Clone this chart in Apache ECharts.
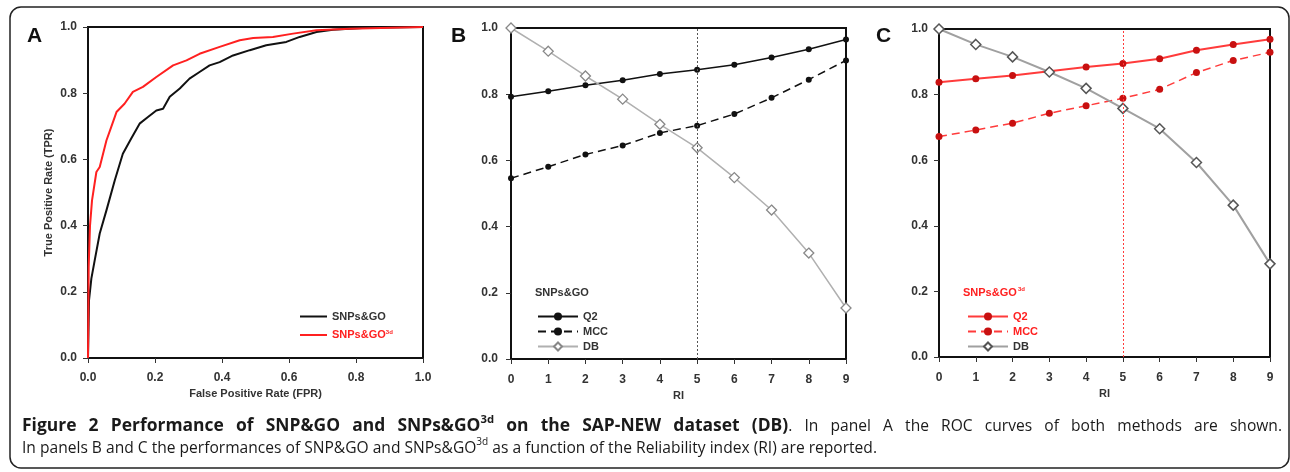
<!DOCTYPE html>
<html><head><meta charset="utf-8">
<script src="https://cdn.jsdelivr.net/npm/echarts@6/dist/echarts.min.js"></script>
<style>html,body{margin:0;padding:0;background:#fff}#c{width:1290px;height:472px}</style>
</head><body><div id="c"></div>
<script>
// ---------- DATA ----------
const rocTicks = [0, 0.2, 0.4, 0.6, 0.8, 1.0];
const rocBlackFpr = [0, 0.003, 0.01, 0.02, 0.035, 0.055, 0.08, 0.104, 0.129, 0.154, 0.179, 0.204, 0.224, 0.244, 0.274, 0.303, 0.333, 0.363, 0.393, 0.433, 0.483, 0.532, 0.592, 0.632, 0.682, 0.731, 0.831, 1.0];
const rocBlackTpr = [0, 0.174, 0.24, 0.295, 0.376, 0.446, 0.537, 0.617, 0.663, 0.708, 0.728, 0.748, 0.753, 0.789, 0.814, 0.844, 0.864, 0.884, 0.894, 0.914, 0.930, 0.945, 0.955, 0.970, 0.985, 0.992, 0.998, 1.0];
const rocRedFpr = [0, 0.002, 0.006, 0.012, 0.025, 0.035, 0.055, 0.07, 0.085, 0.109, 0.134, 0.164, 0.204, 0.254, 0.294, 0.333, 0.393, 0.453, 0.493, 0.552, 0.612, 0.682, 0.781, 1.0];
const rocRedTpr = [0, 0.275, 0.40, 0.476, 0.562, 0.577, 0.657, 0.70, 0.743, 0.768, 0.804, 0.819, 0.849, 0.884, 0.899, 0.919, 0.940, 0.960, 0.967, 0.970, 0.980, 0.990, 0.995, 1.0];

const riLabels = ['0', '1', '2', '3', '4', '5', '6', '7', '8', '9'];
const riThreshold = '5';
const bQ2 = [0.792, 0.809, 0.827, 0.842, 0.861, 0.874, 0.889, 0.911, 0.936, 0.965];
const bMCC = [0.546, 0.581, 0.618, 0.645, 0.683, 0.705, 0.740, 0.789, 0.844, 0.902];
const bDB = [1.0, 0.930, 0.855, 0.785, 0.709, 0.638, 0.548, 0.450, 0.320, 0.154];
const cQ2 = [0.838, 0.848, 0.858, 0.871, 0.884, 0.895, 0.909, 0.935, 0.953, 0.969];
const cMCC = [0.672, 0.692, 0.713, 0.743, 0.766, 0.789, 0.816, 0.867, 0.904, 0.929];
const cDB = [1.0, 0.953, 0.915, 0.869, 0.819, 0.758, 0.696, 0.593, 0.463, 0.284];

// caption text: each line is a list of [text, style] pieces; 'S' marks a superscript
const captionLine1 = [
  ['Figure 2 Performance of SNP&GO and SNPs&GO', 'B'], ['3d', 'SB'],
  [' on the SAP-NEW dataset (DB)', 'B'], ['. In panel A the ROC curves of both methods are shown.', 'R']
];
const captionLine2 = [
  ['In panels B and C the performances of SNP&GO and SNPs&GO', 'R'], ['3d', 'SR'],
  [' as a function of the Reliability index (RI) are reported.', 'R']
];

// ---------- helpers ----------
const zip = (a, b) => a.map((v, i) => [v, b[i]]);
const FONT = '"Liberation Sans", Arial, sans-serif';
const RED = '#ff2020';

const chart = echarts.init(document.getElementById('c'), null, {renderer: 'canvas'});

function yAxisCommon(gi, labelMargin) {
  return {
    gridIndex: gi, type: 'value', min: 0, max: 1, interval: 0.2,
    axisLine: {show: true, lineStyle: {color: '#111', width: 2}},
    axisTick: {show: true, length: 5, lineStyle: {color: '#333', width: 1}},
    axisLabel: {margin: labelMargin, color: '#333', fontFamily: FONT, fontWeight: 'bold', fontSize: 12,
      formatter: v => v.toFixed(1)},
    splitLine: {show: false}
  };
}
function xCat(gi, labelMargin, nameGap) {
  return {
    gridIndex: gi, type: 'category', data: riLabels, boundaryGap: false,
    name: 'RI', nameLocation: 'middle', nameGap: nameGap,
    nameTextStyle: {color: '#333', fontFamily: FONT, fontWeight: 'bold', fontSize: 11},
    axisLine: {show: true, lineStyle: {color: '#111', width: 2}},
    axisTick: {show: true, length: 5, alignWithLabel: true, interval: 0, lineStyle: {color: '#333', width: 1}},
    axisLabel: {margin: labelMargin, interval: 0, color: '#333', fontFamily: FONT, fontWeight: 'bold', fontSize: 12},
    splitLine: {show: false}
  };
}

// caption layout (word-level justification like the printed figure)
const mctx = document.createElement('canvas').getContext('2d');
const CAP = '"Open Sans", "Noto Sans", sans-serif';
function fontOf(st) {
  const bold = st.indexOf('B') >= 0;
  const sup = st.indexOf('S') >= 0;
  return (bold ? 'bold ' : '') + (sup ? 11 : 17) + 'px ' + CAP;
}
function mw(text, font) { mctx.font = font; return mctx.measureText(text).width; }
function toWords(pieces) {
  const words = [[]];
  pieces.forEach(([t, st]) => {
    const parts = t.split(' ');
    parts.forEach((p, i) => {
      if (i > 0) words.push([]);
      if (p.length) words[words.length - 1].push([p, st]);
    });
  });
  return words.filter(w => w.length);
}
const capScale = (877 - 22) / captionLine2.reduce((s, [t, st]) => s + mw(t, fontOf(st)), 0);
const boldScale = capScale * 1.12;
const scaleOf = st => st.indexOf('B') >= 0 ? boldScale : capScale;
function wordWidth(w) { return w.reduce((s, [t, st]) => s + mw(t, fontOf(st)) * scaleOf(st), 0); }
function layoutLine(pieces, x0, x1, yMid, justify) {
  const words = toWords(pieces);
  const widths = words.map(wordWidth);
  const sum = widths.reduce((a, b) => a + b, 0);
  const gap = justify ? (x1 - x0 - sum) / (words.length - 1) : mw(' ', fontOf('R')) * capScale;
  const els = [];
  let x = x0;
  words.forEach((w, wi) => {
    let lx = x;
    w.forEach(([t, st]) => {
      const f = fontOf(st);
      const sc = scaleOf(st);
      els.push({type: 'text', x: lx, y: yMid + (st.indexOf('S') >= 0 ? -6 : 0), scaleX: sc,
        style: {text: t, font: f, fill: '#1a1a1a', verticalAlign: 'middle', align: 'left'}});
      lx += mw(t, f) * sc;
    });
    x += widths[wi] + gap;
  });
  return els;
}
const captionEls = [].concat(
  layoutLine(captionLine1, 22, 1282, 426, true),
  layoutLine(captionLine2, 22, 877, 448, false)
);

const legendText = {color: '#333', fontFamily: FONT, fontWeight: 'bold', fontSize: 11,
  rich: {b: {color: RED, fontFamily: FONT, fontWeight: 'bold', fontSize: 11},
         s: {color: RED, fontFamily: FONT, fontWeight: 'bold', fontSize: 6, verticalAlign: 'top', padding: [0, 0, 6, 0]}}};

const option = {
  animation: false,
  backgroundColor: '#fff',
  grid: [
    {left: 88, top: 27, width: 335, height: 331, show: true, borderColor: '#111', borderWidth: 2, backgroundColor: 'transparent'},
    {left: 511, top: 28, width: 335, height: 331, show: true, borderColor: '#111', borderWidth: 2, backgroundColor: 'transparent'},
    {left: 939, top: 29, width: 331, height: 328, show: true, borderColor: '#111', borderWidth: 2, backgroundColor: 'transparent'}
  ],
  xAxis: [
    {gridIndex: 0, type: 'value', min: 0, max: 1, interval: 0.2,
      name: 'False Positive Rate (FPR)', nameLocation: 'middle', nameGap: 29,
      nameTextStyle: {color: '#333', fontFamily: FONT, fontWeight: 'bold', fontSize: 11},
      axisLine: {show: true, lineStyle: {color: '#111', width: 2}},
      axisTick: {show: true, length: 5, lineStyle: {color: '#333', width: 1}},
      axisLabel: {margin: 14, color: '#333', fontFamily: FONT, fontWeight: 'bold', fontSize: 12, formatter: v => v.toFixed(1)},
      splitLine: {show: false}},
    xCat(1, 15, 30),
    xCat(2, 15, 30)
  ],
  yAxis: [
    Object.assign(yAxisCommon(0, 11), {name: 'True Positive Rate (TPR)', nameLocation: 'middle', nameGap: 34,
      nameTextStyle: {color: '#333', fontFamily: FONT, fontWeight: 'bold', fontSize: 11}}),
    yAxisCommon(1, 13),
    yAxisCommon(2, 11)
  ],
  legend: [
    {left: 295, top: 306, orient: 'vertical', itemWidth: 27, itemHeight: 10, itemGap: 7,
      icon: 'path://M0,4 L27,4 L27,6 L0,6 Z',
      data: [{name: 'SNPs&GO'}, {name: 'SNPs&GO3d'}],
      formatter: n => n === 'SNPs&GO3d' ? '{b|SNPs&GO}{s|3d}' : n,
      textStyle: legendText},
    {left: 532, top: 306, orient: 'vertical', itemWidth: 40, itemHeight: 10, itemGap: 4,
      data: ['Q2', 'MCC', 'DB'],
      textStyle: {color: '#333', fontFamily: FONT, fontWeight: 'bold', fontSize: 11}},
    {left: 962, top: 306, orient: 'vertical', itemWidth: 40, itemHeight: 10, itemGap: 4,
      data: [{name: 'C-Q2', textStyle: {color: RED}}, {name: 'C-MCC', textStyle: {color: RED}}, {name: 'C-DB'}],
      formatter: n => n.replace('C-', ''),
      textStyle: {color: '#333', fontFamily: FONT, fontWeight: 'bold', fontSize: 11}}
  ],
  series: [
    {name: 'SNPs&GO', type: 'line', xAxisIndex: 0, yAxisIndex: 0, data: zip(rocBlackFpr, rocBlackTpr),
      showSymbol: false, symbol: 'none', lineStyle: {color: '#111', width: 2}, itemStyle: {color: '#111'}},
    {name: 'SNPs&GO3d', type: 'line', xAxisIndex: 0, yAxisIndex: 0, data: zip(rocRedFpr, rocRedTpr),
      showSymbol: false, symbol: 'none', lineStyle: {color: RED, width: 2}, itemStyle: {color: RED}},

    {name: 'Q2', type: 'line', xAxisIndex: 1, yAxisIndex: 1, data: bQ2, symbol: 'circle', symbolSize: 6,
      lineStyle: {color: '#111', width: 1.5}, itemStyle: {color: '#111'},
      markLine: {silent: true, symbol: 'none', label: {show: false}, data: [{xAxis: riThreshold}],
        lineStyle: {color: '#555', type: [2, 2], width: 1}}},
    {name: 'MCC', type: 'line', xAxisIndex: 1, yAxisIndex: 1, data: bMCC, symbol: 'circle', symbolSize: 6,
      lineStyle: {color: '#111', width: 1.5, type: [8, 5]}, itemStyle: {color: '#111'}},
    {name: 'DB', type: 'line', xAxisIndex: 1, yAxisIndex: 1, data: bDB, symbol: 'diamond', symbolSize: 10,
      lineStyle: {color: '#b0b0b0', width: 1.5}, itemStyle: {color: '#fff', borderColor: '#888', borderWidth: 1.3}},

    {name: 'C-Q2', type: 'line', xAxisIndex: 2, yAxisIndex: 2, data: cQ2, symbol: 'circle', symbolSize: 7,
      lineStyle: {color: '#ff3b3b', width: 2}, itemStyle: {color: '#c81010'},
      markLine: {silent: true, symbol: 'none', label: {show: false}, data: [{xAxis: riThreshold}],
        lineStyle: {color: '#ff3b3b', type: [2, 2], width: 1}}},
    {name: 'C-MCC', type: 'line', xAxisIndex: 2, yAxisIndex: 2, data: cMCC, symbol: 'circle', symbolSize: 7,
      lineStyle: {color: '#ff3b3b', width: 1.5, type: [8, 5]}, itemStyle: {color: '#c81010'}},
    {name: 'C-DB', type: 'line', xAxisIndex: 2, yAxisIndex: 2, data: cDB, symbol: 'diamond', symbolSize: 10,
      lineStyle: {color: '#a0a0a0', width: 2}, itemStyle: {color: '#fff', borderColor: '#555', borderWidth: 1.5}}
  ],
  graphic: [
    {type: 'rect', shape: {x: 10, y: 7, width: 1279, height: 461, r: 11}, style: {fill: 'none', stroke: '#222', lineWidth: 1.5}, z: 0},
    {type: 'text', x: 27, y: 26, style: {text: 'A', font: 'bold 21px ' + FONT, fill: '#111'}},
    {type: 'text', x: 451, y: 26, style: {text: 'B', font: 'bold 21px ' + FONT, fill: '#111'}},
    {type: 'text', x: 876, y: 26, style: {text: 'C', font: 'bold 21px ' + FONT, fill: '#111'}},
    {type: 'text', x: 535, y: 287, style: {text: 'SNPs&GO', font: 'bold 11px ' + FONT, fill: '#333'}},
    {type: 'text', x: 963, y: 287, style: {text: 'SNPs&GO', font: 'bold 11px ' + FONT, fill: RED}},
    {type: 'text', x: 1018, y: 286, style: {text: '3d', font: 'bold 6px ' + FONT, fill: RED}}
  ].concat(captionEls)
};
chart.setOption(option);
</script></body></html>
